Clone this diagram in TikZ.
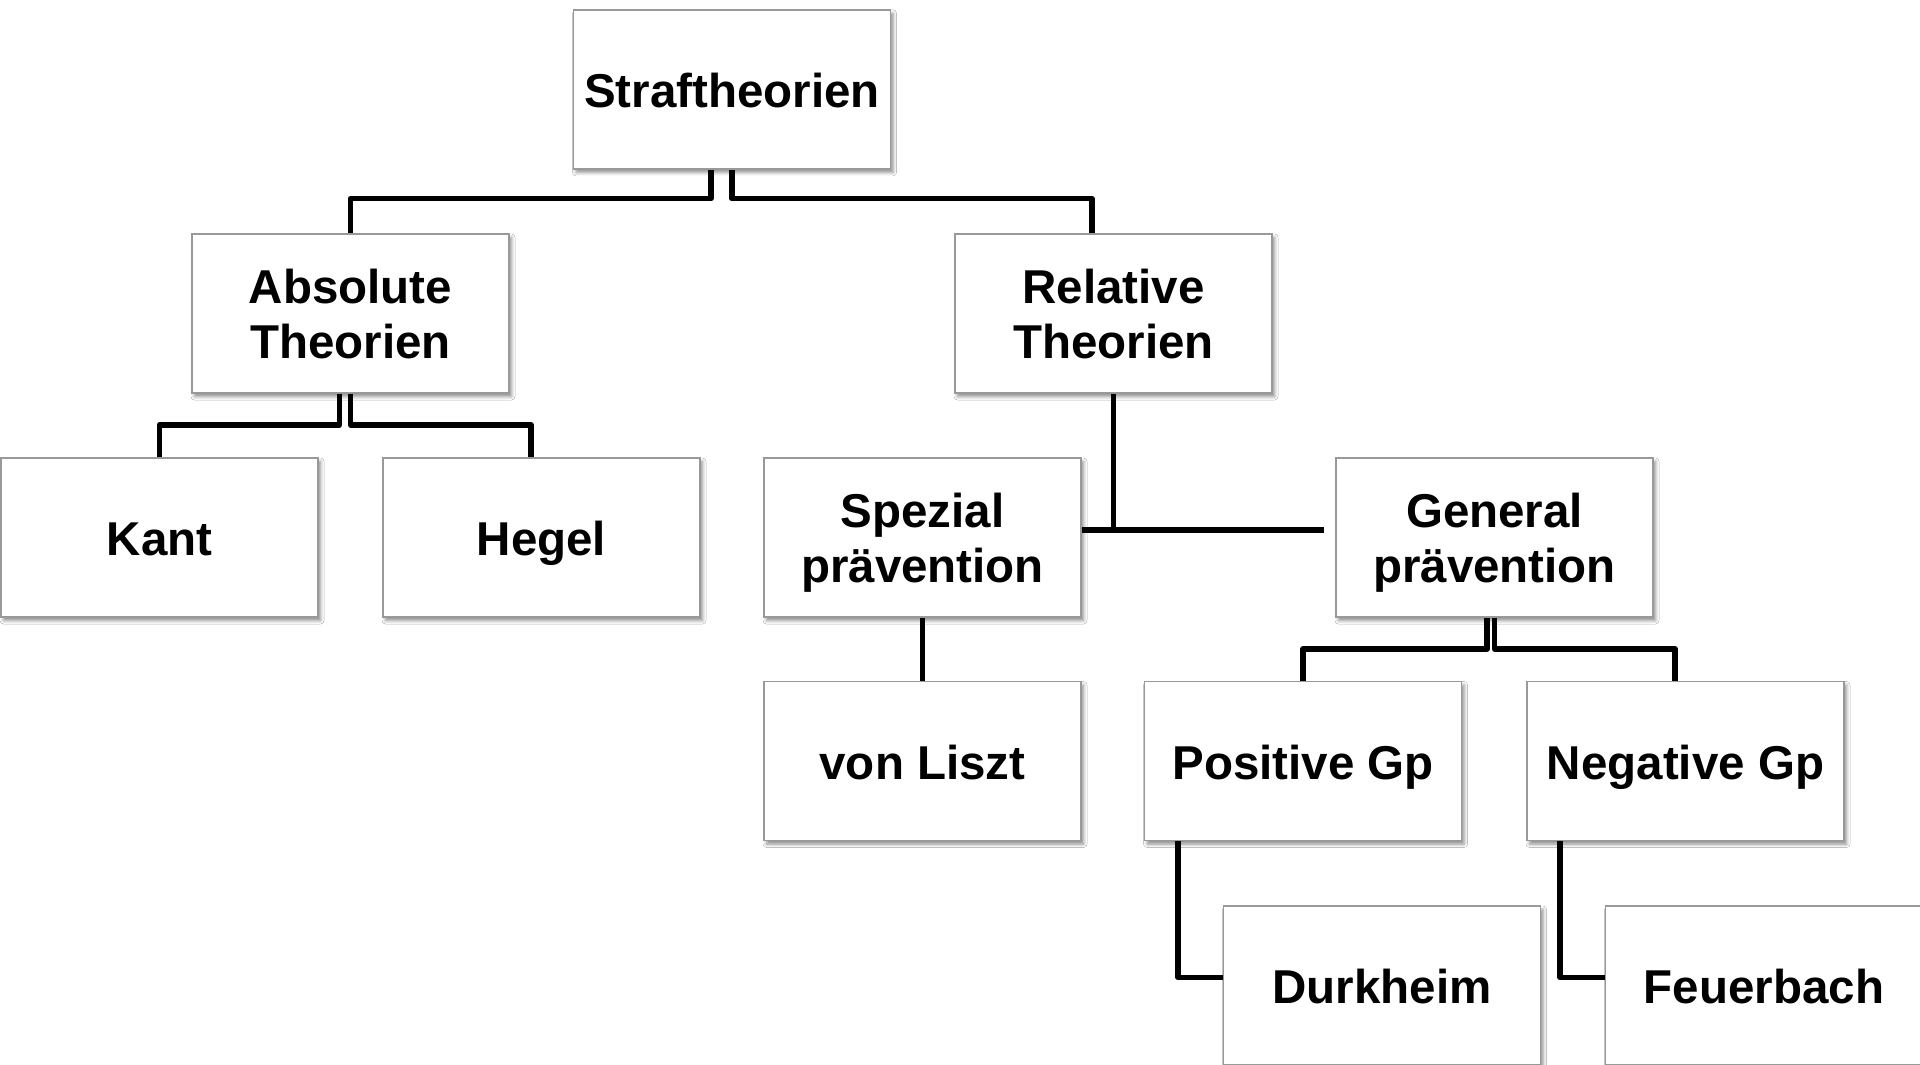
\documentclass[tikz,border=0pt]{standalone}
\usepackage{fontspec}
\setmainfont{Liberation Sans}
\usetikzlibrary{shadows.blur}
\newcommand{\toplift}{\rule{0pt}{45pt}}
\newcommand{\lowfix}{\vphantom{p}}
\begin{document}
\begin{tikzpicture}[x=1pt,y=-1pt,
  box/.style={rectangle, draw=black!40, line width=1.6pt, fill=white,
    minimum width=317pt, minimum height=159pt, inner sep=0pt, align=center,
    font=\bfseries\fontsize{47.5}{55}\selectfont,
    blur shadow={shadow xshift=2.5pt, shadow yshift=-3.5pt, shadow blur radius=3.5pt, shadow opacity=45}},
  one/.style={text height=36pt, text depth=0pt},
  conn/.style={draw=black, line width=5.5pt, line join=round}]
\useasboundingbox (0,0) rectangle (1920,1065);
\fill[white] (0,0) rectangle (1920,1065);
% nodes
\node[box,one] (S)  at (732,89.4)   {Straftheorien};
\node[box] (A)  at (350.5,313.5) {\toplift Absolute\\Theorien\lowfix};
\node[box] (R)  at (1113.5,313.5) {\toplift Relative\\Theorien\lowfix};
\node[box,one] (K)  at (159.5,537.5) {Kant};
\node[box,one] (H)  at (541.5,537.5) {Hegel};
\node[box] (SP) at (922.5,537.5) {\toplift Spezial\\prävention\lowfix};
\node[box] (G)  at (1494.5,537.5) {\toplift General\\prävention\lowfix};
\node[box,one] (VL) at (922.5,761)  {von Liszt};
\node[box,one] (P)  at (1303,761)   {Positive Gp};
\node[box,one] (N)  at (1685.5,761) {Negative Gp};
\node[box,one] (D)  at (1382,985.5) {Durkheim};
\node[box,one] (F)  at (1764,985.5) {Feuerbach};
% connectors
\draw[conn] ([xshift=-21pt]S.south) -- ++(0,29) -| (A.north);
\draw[conn] (S.south) -- ++(0,29) -| ([xshift=-21.5pt]R.north);
\draw[conn] ([xshift=-11pt]A.south) -- ++(0,31) -| (K.north);
\draw[conn] (A.south) -- ++(0,31) -| ([xshift=-10.5pt]H.north);
\coordinate (gend) at ([xshift=-11pt,yshift=7.5pt]G.west);
\draw[conn] (R.south) -- (R.south |- gend);
\draw[conn] (SP.east |- gend) -- (gend);
\draw[conn] (SP.south) -- (VL.north);
\draw[conn] ([xshift=-7.5pt]G.south) -- ++(0,31) -| (P.north);
\draw[conn] (G.south) -- ++(0,31) -| ([xshift=-10.5pt]N.north);
\draw[conn] ([xshift=-125pt]P.south) |- ([yshift=8pt]D.west);
\draw[conn] ([xshift=-125.5pt]N.south) |- ([yshift=8pt]F.west);
\end{tikzpicture}
\end{document}
